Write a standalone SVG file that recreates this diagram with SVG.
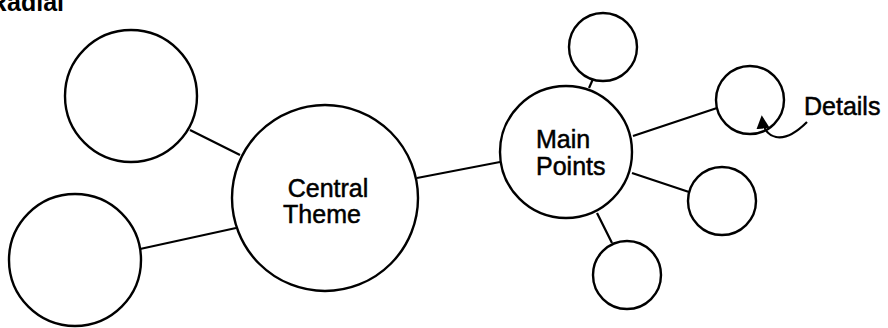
<svg xmlns="http://www.w3.org/2000/svg" width="888" height="328" viewBox="0 0 888 328">
<style>
  .node circle { fill: #fff; stroke: #000; stroke-width: 2.4; }
  .conn line, .conn path { stroke: #000; stroke-width: 2.2; fill: none; }
  text { font-family: "Liberation Sans", Arial, sans-serif; font-size: 25px; fill: #000; stroke: #000; stroke-width: 0.5; }
  .title { font-weight: bold; stroke: none; }
</style>
<defs>
  <marker id="arrow" viewBox="0 0 10 10" refX="8" refY="5" markerWidth="6" markerHeight="6" orient="auto" markerUnits="strokeWidth">
    <path d="M0,0 L10,5 L0,10 z" fill="#000"/>
  </marker>
</defs>
<rect width="888" height="328" fill="#fff"/>
<text class="title" x="-11" y="11">Radial</text>
<g class="conn">
  <line x1="190" y1="130" x2="240" y2="155"/>
  <line x1="140" y1="249" x2="236" y2="228"/>
  <line x1="417" y1="178" x2="500" y2="162"/>
  <line x1="589" y1="88" x2="593" y2="79"/>
  <line x1="633" y1="136" x2="717" y2="108"/>
  <line x1="632" y1="173" x2="689" y2="192"/>
  <line x1="597" y1="213" x2="612" y2="243"/>
</g>
<g id="n-tl" class="node"><circle cx="131" cy="96" r="66"/></g>
<g id="n-bl" class="node"><circle cx="75" cy="260" r="66"/></g>
<g id="n-central" class="node"><circle cx="325" cy="198" r="93"/>
  <text x="328" y="197" text-anchor="middle">Central</text>
  <text x="322" y="223" text-anchor="middle">Theme</text>
</g>
<g id="n-main" class="node"><circle cx="566" cy="152" r="66"/>
  <text x="536" y="148">Main</text>
  <text x="536" y="175">Points</text>
</g>
<g id="n-top" class="node"><circle cx="603" cy="47" r="34"/></g>
<g id="n-details" class="node"><circle cx="750" cy="100" r="34"/></g>
<g id="n-right" class="node"><circle cx="722" cy="201" r="34"/></g>
<g id="n-bottom" class="node"><circle cx="627" cy="275" r="34"/></g>
<g id="details-label" class="conn">
  <path d="M807 122 C796 133 786 139 776 137 C767 135 763 128 762 118" marker-end="url(#arrow)"/>
  <text x="804" y="115">Details</text>
</g>
</svg>
